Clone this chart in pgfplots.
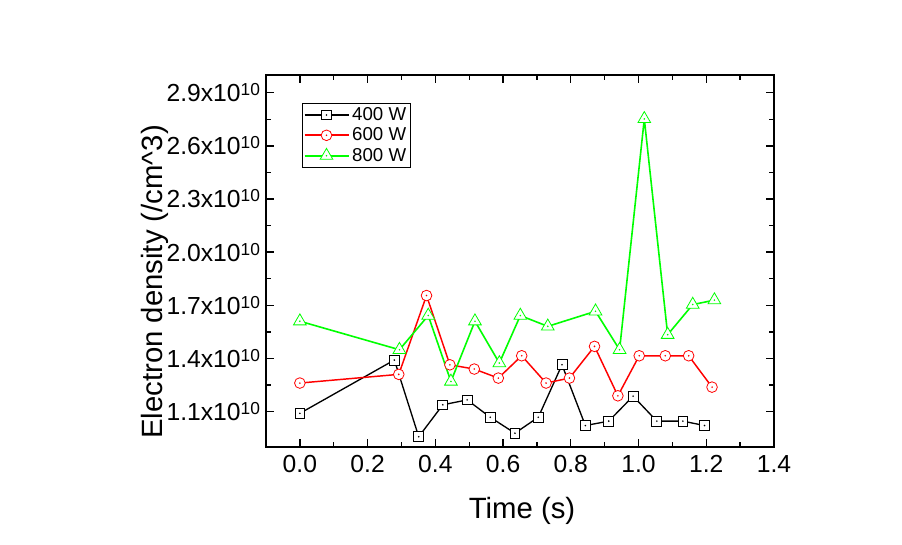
\documentclass[border=0pt]{standalone}
\usepackage{fontspec}
\setmainfont{Liberation Sans}
\usepackage{pgfplots}
\pgfplotsset{compat=1.18}

\pgfdeclareplotmark{sqd}{%
  \pgfpathrectangle{\pgfpoint{-\pgfplotmarksize}{-\pgfplotmarksize}}{\pgfpoint{2\pgfplotmarksize}{2\pgfplotmarksize}}%
  \pgfusepathqfillstroke
  \pgfpathcircle{\pgfpointorigin}{0.25pt}\pgfusepathqstroke}
\pgfdeclareplotmark{ocd}{%
  \pgfpathcircle{\pgfpointorigin}{\pgfplotmarksize}%
  \pgfusepathqfillstroke
  \pgfpathcircle{\pgfpointorigin}{0.25pt}\pgfusepathqstroke}
\pgfdeclareplotmark{trd}{%
  \pgfpathmoveto{\pgfpoint{0pt}{\pgfplotmarksize}}%
  \pgfpathlineto{\pgfpoint{-0.866\pgfplotmarksize}{-0.5\pgfplotmarksize}}%
  \pgfpathlineto{\pgfpoint{0.866\pgfplotmarksize}{-0.5\pgfplotmarksize}}%
  \pgfpathclose
  \pgfusepathqfillstroke
  \pgfpathcircle{\pgfpointorigin}{0.25pt}\pgfusepathqstroke}

\definecolor{oblack}{RGB}{0,0,0}
\definecolor{ored}{RGB}{255,0,0}
\definecolor{ogreen}{RGB}{0,255,0}
\newcommand{\sx}[1]{#1x10\raisebox{4.6pt}{\fontsize{13}{13}\selectfont 10}}

\begin{document}
\begin{tikzpicture}
\useasboundingbox (0,0) rectangle (676.5pt,408.75pt);
\begin{axis}[
  at={(199.5pt,73.5pt)}, anchor=south west,
  scale only axis, width=381pt, height=279pt,
  xmin=-0.1, xmax=1.4, ymin=0.9, ymax=3.0,
  xtick={0,0.2,0.4,0.6,0.8,1.0,1.2,1.4},
  xticklabels={0.0,0.2,0.4,0.6,0.8,1.0,1.2,1.4},
  ytick={1.1,1.4,1.7,2.0,2.3,2.6,2.9},
  yticklabels={\sx{1.1},\sx{1.4},\sx{1.7},\sx{2.0},\sx{2.3},\sx{2.6},\sx{2.9}},
  minor x tick num=1, minor y tick num=1,
  tick align=inside,
  xtick pos=both, ytick pos=both,
  xticklabel pos=lower, yticklabel pos=left,
  major tick length=6pt, minor tick length=3.5pt,
  every tick/.style={black, line width=1pt},
  axis line style={line width=1.1pt},
  tick label style={font=\fontsize{18.5}{21}\selectfont},
  yticklabel style={xshift=-1pt},
  xticklabel style={yshift=-2.5pt},
  xlabel={Time (s)}, ylabel={Electron density (/cm\^{}3)},
  label style={font=\fontsize{22}{26}\selectfont},
  xlabel style={at={(axis description cs:0.504,-0.172)}, anchor=center},
  ylabel style={at={(axis description cs:-0.2185,0.4435)}, anchor=center, rotate=0},
  legend style={at={(0.07,0.925)}, anchor=north west, draw=black,
    font=\fontsize{14}{15.5}\selectfont, row sep=0pt, inner sep=1.2pt},
  legend cell align=left,
]
\addplot[oblack, line width=1pt, mark=sqd, mark size=3.7pt, mark options={fill=white, line width=0.6pt},
  legend image code/.code={\draw[mark=none,line width=1.3pt] (0cm,0cm) -- (1.16cm,0cm); \draw[only marks] plot coordinates {(0.58cm,0cm)};}] coordinates {
(0,1.09) (0.279,1.391) (0.351,0.958) (0.422,1.138) (0.494,1.166) (0.562,1.068)
(0.635,0.978) (0.704,1.068) (0.774,1.364) (0.843,1.021) (0.912,1.046) (0.984,1.187)
(1.054,1.046) (1.131,1.046) (1.195,1.021)};
\addlegendentry{400 W}
\addplot[ored, line width=1.1pt, mark=ocd, mark size=4pt, mark options={fill=white, line width=0.6pt},
  legend image code/.code={\draw[mark=none,line width=1.5pt] (0cm,0cm) -- (1.16cm,0cm); \draw[only marks] plot coordinates {(0.58cm,0cm)};}] coordinates {
(0,1.261) (0.292,1.31) (0.374,1.755) (0.443,1.364) (0.515,1.34) (0.586,1.289)
(0.655,1.415) (0.727,1.261) (0.796,1.289) (0.870,1.468) (0.939,1.189) (1.002,1.415)
(1.079,1.415) (1.148,1.415) (1.217,1.238)};
\addlegendentry{600 W}
\addplot[ogreen, line width=1.2pt, mark=trd, mark size=5.5pt, mark options={fill=white, line width=0.6pt},
  legend image code/.code={\draw[mark=none,line width=1.6pt] (0cm,0cm) -- (1.16cm,0cm); \draw[only marks] plot coordinates {(0.58cm,0cm)};}] coordinates {
(0,1.61) (0.294,1.449) (0.379,1.642) (0.446,1.27) (0.517,1.61) (0.589,1.374)
(0.651,1.642) (0.732,1.581) (0.873,1.666) (0.944,1.449) (1.017,2.752) (1.086,1.534)
(1.160,1.704) (1.224,1.729)};
\addlegendentry{800 W}
\end{axis}
\end{tikzpicture}
\end{document}
